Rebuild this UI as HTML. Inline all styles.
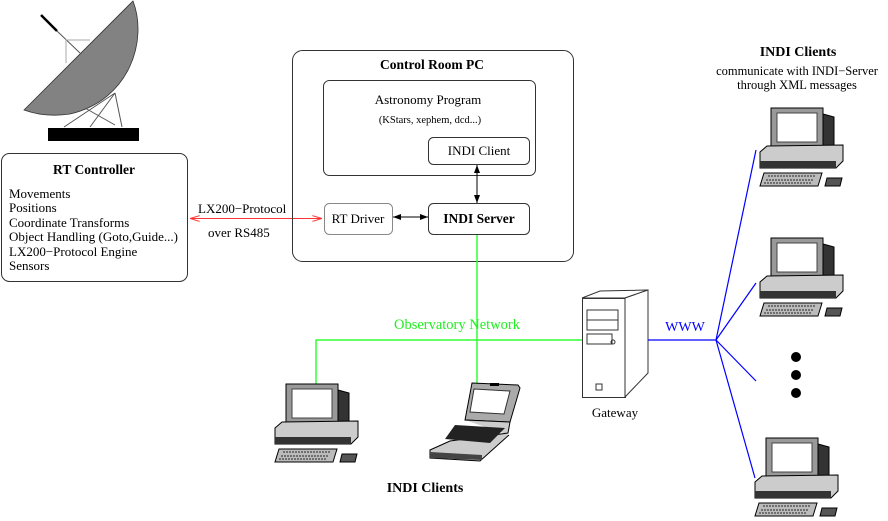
<!DOCTYPE html>
<html><head><meta charset="utf-8"><style>
body{margin:0;background:#fff}
svg{display:block;font-family:"Liberation Serif",serif}
</style></head><body>
<svg width="888" height="521" viewBox="0 0 888 521" xmlns="http://www.w3.org/2000/svg">
<defs>
<marker id="ab" markerWidth="8" markerHeight="6" refX="8" refY="3" orient="auto-start-reverse"><path d="M0,0 L8,3 L0,6 z" fill="#000"/></marker>
<marker id="ar" markerWidth="10" markerHeight="6" refX="10" refY="3" orient="auto-start-reverse"><path d="M0,0 L10,3 L0,6" fill="none" stroke="#f33" stroke-width="1"/></marker>
<g id="pc">
<rect x="11" y="0" width="52" height="40" fill="#999" stroke="#000" stroke-width="1"/>
<rect x="17" y="5" width="40" height="29" fill="#fff" stroke="#444"/>
<path d="M63,6 L74,9 L74,37 L63,40z" fill="#333" stroke="#000"/>
<path d="M0,44 L7,38 L83,37 L83,53 L76,60 L0,60z" fill="#ccc" stroke="#000"/>
<rect x="0" y="53" width="76" height="7" fill="#333"/>
<path d="M4,65 L62,65 L58,78 L0,78z" fill="#bbb" stroke="#000"/>
<path d="M8,68 L55,68 M6,72 L54,72 M4,75 L52,75" stroke="#444" stroke-width="1.2" stroke-dasharray="2,1"/>
<path d="M67,70 L82,70 L80,78 L65,78z" fill="#555" stroke="#000"/>
</g>
</defs>

<path d="M24,110 L133,1 C148,40 130,100 70,114 C50,117 35,114 24,110z" fill="#828282" stroke="#333" stroke-width="0.8"/>
<line x1="41" y1="15" x2="57" y2="31" stroke="#000" stroke-width="2.5"/>
<line x1="57" y1="31" x2="80" y2="53" stroke="#555"/>
<path d="M90,40 L66,40 L66,63" stroke="#aaa" fill="none"/>
<path d="M64,127 L115,93 M90,127 L115,93 M115,93 L122,127 M85,108 L115,125" stroke="#555" fill="none"/>
<rect x="48" y="128" width="91" height="13" fill="#000"/>

<rect x="1.5" y="153.5" width="186" height="128" rx="8" fill="#fff" stroke="#333"/>
<text x="94" y="174" font-size="13.5" font-weight="bold" text-anchor="middle">RT Controller</text>
<g font-size="13">
<text x="9" y="198">Movements</text>
<text x="9" y="212">Positions</text>
<text x="9" y="227">Coordinate Transforms</text>
<text x="9" y="241">Object Handling (Goto,Guide...)</text>
<text x="9" y="256">LX200−Protocol Engine</text>
<text x="9" y="270">Sensors</text>
</g>

<line x1="190" y1="218.5" x2="322" y2="218.5" stroke="#f33" stroke-width="1" marker-start="url(#ar)" marker-end="url(#ar)"/>
<text x="198" y="213" font-size="13">LX200−Protocol</text>
<text x="208" y="237" font-size="13">over RS485</text>

<rect x="292.5" y="50.5" width="281" height="211" rx="10" fill="none" stroke="#333"/>
<text x="432" y="69" font-size="13.5" font-weight="bold" text-anchor="middle">Control Room PC</text>
<rect x="323.5" y="80.5" width="212" height="95" rx="6" fill="none" stroke="#333"/>
<text x="428" y="104" font-size="13" text-anchor="middle">Astronomy Program</text>
<text x="430" y="123" font-size="10.5" text-anchor="middle">(KStars, xephem, dcd...)</text>
<rect x="428.5" y="137.5" width="101" height="27" rx="5" fill="#fff" stroke="#333"/>
<text x="479" y="155" font-size="13" text-anchor="middle">INDI Client</text>
<rect x="324.5" y="203.5" width="68" height="31" rx="5" fill="#fff" stroke="#888"/>
<text x="358" y="223" font-size="13" text-anchor="middle">RT Driver</text>
<rect x="428.5" y="203.5" width="101" height="31" rx="5" fill="#fff" stroke="#333"/>
<text x="479" y="223" font-size="13.5" font-weight="bold" text-anchor="middle">INDI Server</text>
<line x1="477" y1="165" x2="477" y2="203" stroke="#000" marker-start="url(#ab)" marker-end="url(#ab)"/>
<line x1="393" y1="217" x2="428" y2="217" stroke="#000" marker-start="url(#ab)" marker-end="url(#ab)"/>

<line x1="477" y1="235" x2="477" y2="386" stroke="#3f3" stroke-width="1.5"/>
<path d="M316,384 L316,340 L582,340" fill="none" stroke="#3f3" stroke-width="1.5"/>
<text x="457" y="329" font-size="14.5" fill="#2e2" text-anchor="middle">Observatory Network</text>

<path d="M582,298 L600,291 L648,290 L625,298z" fill="#fff" stroke="#333"/>
<rect x="582.5" y="298.5" width="43" height="99" fill="#fff" stroke="#333"/>
<path d="M625,298 L648,290 L648,373 L625,397z" fill="#fff" stroke="#333"/>
<rect x="587" y="310" width="31" height="10" fill="none" stroke="#333"/>
<rect x="587" y="320" width="31" height="10" fill="none" stroke="#333"/>
<rect x="587" y="334" width="25" height="10" fill="none" stroke="#333"/>
<circle cx="613" cy="342" r="2" fill="none" stroke="#333"/>
<rect x="596" y="384" width="6" height="6" fill="none" stroke="#333"/>
<text x="615" y="417" font-size="13" text-anchor="middle">Gateway</text>

<g stroke="#00f" stroke-width="1.2">
<line x1="648" y1="340" x2="716" y2="340"/>
<line x1="716" y1="340" x2="756" y2="150"/>
<line x1="716" y1="340" x2="756" y2="283"/>
<line x1="716" y1="340" x2="756" y2="381"/>
<line x1="716" y1="340" x2="755" y2="478"/>
</g>
<text x="685" y="331" font-size="14" fill="#00f" text-anchor="middle">WWW</text>
<circle cx="796" cy="357" r="5" fill="#000"/>
<circle cx="796" cy="375" r="5" fill="#000"/>
<circle cx="796" cy="393" r="5" fill="#000"/>

<text x="798" y="56" font-size="14" font-weight="bold" text-anchor="middle">INDI Clients</text>
<text x="797" y="75" font-size="12.5" text-anchor="middle">communicate with INDI−Server</text>
<text x="797" y="89" font-size="12.5" text-anchor="middle">through XML messages</text>
<use href="#pc" x="760" y="108"/>
<use href="#pc" x="760" y="238"/>
<use href="#pc" x="755" y="438"/>
<use href="#pc" x="275" y="384"/>

<path d="M472,383 L518,385 L520,388 L510,422 L465,420z" fill="#aaa" stroke="#000"/>
<path d="M474,389 L510,391 L504,414 L470,412z" fill="#fff" stroke="#333"/>
<rect x="490" y="383" width="9" height="3" fill="#000"/>
<path d="M465,420 L510,422 L508,433 L450,441 L430,450 L430,458 L480,461 L509,435" fill="#ccc" stroke="#000"/>
<path d="M455,425 L505,428 L490,443 L445,439z" fill="#222"/>
<path d="M430,452 L482,455 L482,460 L430,458z" fill="#444"/>

<text x="425" y="492" font-size="14" font-weight="bold" text-anchor="middle">INDI Clients</text>
</svg>
</body></html>
